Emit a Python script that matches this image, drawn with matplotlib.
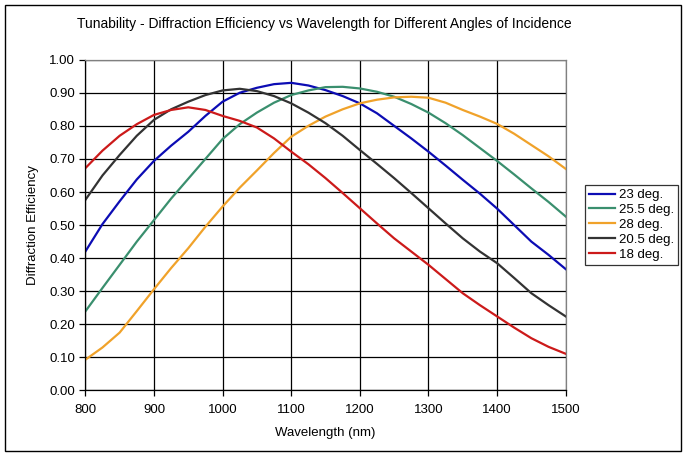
import matplotlib
matplotlib.use("Agg")
import matplotlib.pyplot as plt
from matplotlib.patches import Rectangle

plt.rcParams['font.family'] = ['Liberation Sans', 'DejaVu Sans']

wavelength = [800, 825, 850, 875, 900, 925, 950, 975, 1000, 1025, 1050, 1075, 1100, 1125,
              1150, 1175, 1200, 1225, 1250, 1275, 1300, 1325, 1350, 1375, 1400, 1425, 1450, 1475, 1500]
deg23   = [0.420, 0.503, 0.572, 0.638, 0.694, 0.740, 0.782, 0.830, 0.873, 0.900, 0.915, 0.926, 0.930, 0.922,
           0.908, 0.890, 0.868, 0.838, 0.800, 0.762, 0.722, 0.680, 0.637, 0.595, 0.550, 0.500, 0.450, 0.410, 0.367]
deg25_5 = [0.239, 0.310, 0.380, 0.450, 0.515, 0.580, 0.640, 0.700, 0.760, 0.805, 0.840, 0.870, 0.893, 0.907,
           0.917, 0.918, 0.913, 0.903, 0.888, 0.866, 0.840, 0.808, 0.772, 0.733, 0.694, 0.653, 0.611, 0.570, 0.526]
deg28   = [0.093, 0.130, 0.175, 0.240, 0.306, 0.370, 0.430, 0.495, 0.556, 0.613, 0.665, 0.718, 0.767, 0.800,
           0.828, 0.850, 0.868, 0.879, 0.886, 0.888, 0.885, 0.870, 0.848, 0.828, 0.806, 0.776, 0.742, 0.708, 0.670]
deg20_5 = [0.576, 0.650, 0.712, 0.770, 0.818, 0.850, 0.873, 0.893, 0.907, 0.912, 0.905, 0.890, 0.868, 0.840,
           0.808, 0.770, 0.727, 0.685, 0.642, 0.597, 0.551, 0.505, 0.460, 0.420, 0.385, 0.340, 0.294, 0.258, 0.224]
deg18   = [0.672, 0.725, 0.770, 0.805, 0.833, 0.848, 0.856, 0.848, 0.830, 0.815, 0.795, 0.762, 0.722, 0.684,
           0.642, 0.597, 0.551, 0.505, 0.460, 0.420, 0.380, 0.337, 0.294, 0.258, 0.224, 0.190, 0.158, 0.132, 0.111]

series = [
    ("23 deg.", deg23, "#0c0cb4"),
    ("25.5 deg.", deg25_5, "#3a8f6e"),
    ("28 deg.", deg28, "#f0a22a"),
    ("20.5 deg.", deg20_5, "#333333"),
    ("18 deg.", deg18, "#cc1a1a"),
]

xticks = [800, 900, 1000, 1100, 1200, 1300, 1400, 1500]
yticks = [0.0, 0.1, 0.2, 0.3, 0.4, 0.5, 0.6, 0.7, 0.8, 0.9, 1.0]

fig = plt.figure(figsize=(6.87, 4.58), dpi=100)
ax = fig.add_axes([0.1242, 0.1474, 0.6992, 0.7223])

for label, vals, col in series:
    ax.plot(wavelength, vals, color=col, lw=1.6, label=label)

ax.set_xlim(800, 1500)
ax.set_ylim(0, 1.0)
ax.set_xticks(xticks)
ax.set_yticks(yticks)
ax.set_yticklabels([f"{v:.2f}" for v in yticks])
ax.grid(True, color='black', lw=0.9)
ax.set_axisbelow(True)
ax.tick_params(direction='out', length=4, width=0.9, labelsize=9.5, colors='black')
ax.tick_params(axis='x', pad=6)
for s in ['top', 'right']:
    ax.spines[s].set_color('#808080')
    ax.spines[s].set_linewidth(0.9)
for s in ['left', 'bottom']:
    ax.spines[s].set_color('black')
    ax.spines[s].set_linewidth(0.9)

ax.set_xlabel("Wavelength (nm)", fontsize=9.5, labelpad=8)
ax.set_ylabel("Diffraction Efficiency", fontsize=9.5, labelpad=7)
fig.text(0.472, 1 - 24/458, "Tunability - Diffraction Efficiency vs Wavelength for Different Angles of Incidence",
         ha='center', va='center', fontsize=10)

leg = ax.legend(loc='upper left', bbox_to_anchor=(585/687, 1 - 185/458), bbox_transform=fig.transFigure,
                frameon=True, fancybox=False, fontsize=9.5, handlelength=2.0, handletextpad=0.25,
                labelspacing=0.2, borderpad=0.3, borderaxespad=0)
leg.get_frame().set_edgecolor('black')
leg.get_frame().set_linewidth(0.9)

fig.add_artist(Rectangle((5/687, 7/458), 676/687, 446/458, transform=fig.transFigure,
                         fill=False, edgecolor='black', lw=1.0))

fig.savefig("out.png", dpi=100)
